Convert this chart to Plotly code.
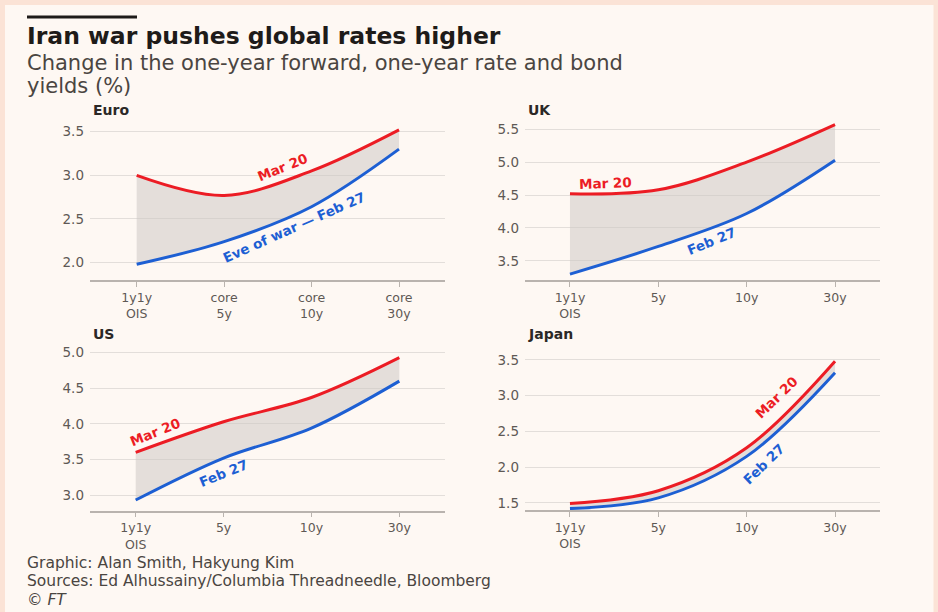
import plotly.graph_objects as go

# ---------------- data ----------------
categories_euro = ["1y1y<br>OIS", "core<br>5y", "core<br>10y", "core<br>30y"]
categories_other = ["1y1y<br>OIS", "5y", "10y", "30y"]

euro_mar20 = [3.00, 2.77, 3.05, 3.52]
euro_feb27 = [1.98, 2.24, 2.64, 3.30]

uk_mar20 = [4.52, 4.58, 5.00, 5.57]
uk_feb27 = [3.30, 3.72, 4.22, 5.03]

us_mar20 = [3.60, 4.03, 4.37, 4.93]
us_feb27 = [2.93, 3.52, 3.94, 4.60]

japan_mar20 = [1.49, 1.67, 2.27, 3.48]
japan_feb27 = [1.42, 1.57, 2.15, 3.32]

euro_ticks = [2.0, 2.5, 3.0, 3.5]
uk_ticks = [3.5, 4.0, 4.5, 5.0, 5.5]
us_ticks = [3.0, 3.5, 4.0, 4.5, 5.0]
japan_ticks = [1.5, 2.0, 2.5, 3.0, 3.5]

# ---------------- style ----------------
W, H = 938, 612
BG = "#FEF8F3"
PEACH = "#FBE3D6"
RED = "#EC1C24"
BLUE = "#1D5FD3"
FILL = "rgba(205,200,196,0.55)"
GRID = "#E3DEDA"
AXIS = "#B9B3AE"
FONT = "DejaVu Sans"
YTICKFONT = dict(family=FONT, size=13.5, color="#5E5955")
XTICKFONT = dict(family=FONT, size=12.5, color="#5E5955")


def px_x(p):
    return p / W


def px_y(p):
    return 1 - p / H


panels = [
    dict(name="Euro", mar=euro_mar20, feb=euro_feb27, cats=categories_euro, ticks=euro_ticks,
         xd=(90, 445), yd=(120, 280), xr=(-0.534, 3.526), yr=(1.80, 3.634), tx=91, ty=110),
    dict(name="UK", mar=uk_mar20, feb=uk_feb27, cats=categories_other, ticks=uk_ticks,
         xd=(525, 880), yd=(120, 280), xr=(-0.509, 3.509), yr=(3.21, 5.64), tx=526, ty=110),
    dict(name="US", mar=us_mar20, feb=us_feb27, cats=categories_other, ticks=us_ticks,
         xd=(90, 445), yd=(342, 510.7), xr=(-0.52, 3.52), yr=(2.78, 5.15), tx=91, ty=334),
    dict(name="Japan", mar=japan_mar20, feb=japan_feb27, cats=categories_other, ticks=japan_ticks,
         xd=(525, 880), yd=(342, 510), xr=(-0.509, 3.509), yr=(1.40, 3.75), tx=526, ty=334),
]

fig = go.Figure()
layout = {}
annotations = []
xs = [0, 1, 2, 3]

for i, p in enumerate(panels):
    n = "" if i == 0 else str(i + 1)
    xa, ya = "x" + n, "y" + n
    fig.add_trace(go.Scatter(x=xs, y=p["feb"], xaxis=xa, yaxis=ya, mode="lines",
                             line=dict(width=0, shape="spline", color=BLUE),
                             hoverinfo="skip", showlegend=False))
    fig.add_trace(go.Scatter(x=xs, y=p["mar"], xaxis=xa, yaxis=ya, mode="lines",
                             line=dict(width=0, shape="spline", color=RED),
                             fill="tonexty", fillcolor=FILL,
                             hoverinfo="skip", showlegend=False))
    fig.add_trace(go.Scatter(x=xs, y=p["feb"], xaxis=xa, yaxis=ya, mode="lines",
                             line=dict(width=3, shape="spline", color=BLUE),
                             name="Feb 27", showlegend=False))
    fig.add_trace(go.Scatter(x=xs, y=p["mar"], xaxis=xa, yaxis=ya, mode="lines",
                             line=dict(width=3, shape="spline", color=RED),
                             name="Mar 20", showlegend=False))

    layout["xaxis" + n] = dict(
        domain=[px_x(p["xd"][0]), px_x(p["xd"][1])], anchor=ya, range=list(p["xr"]),
        tickvals=xs, ticktext=p["cats"], showgrid=False, zeroline=False,
        showline=True, linecolor=AXIS, linewidth=1.5,
        ticks="outside", ticklen=5, tickcolor=AXIS, tickwidth=1,
        tickfont=XTICKFONT, fixedrange=True)
    layout["yaxis" + n] = dict(
        domain=[px_y(p["yd"][1]), px_y(p["yd"][0])], anchor=xa, range=list(p["yr"]),
        tickvals=p["ticks"], tickformat=".1f", showgrid=True, gridcolor=GRID, gridwidth=1.2,
        zeroline=False, showline=False, ticks="", ticklabelstandoff=5,
        tickfont=YTICKFONT, fixedrange=True)
    annotations.append(dict(text="<b>" + p["name"] + "</b>", xref="paper", yref="paper",
                            x=px_x(p["tx"]), y=px_y(p["ty"]), xanchor="left", yanchor="middle",
                            showarrow=False, font=dict(family=FONT, size=14, color="#2B2826")))

line_labels = [
    ("Mar 20", "x", "y", 1.67, 3.10, -22, RED),
    ("Eve of war — Feb 27", "x", "y", 1.80, 2.41, -24, BLUE),
    ("Mar 20", "x2", "y2", 0.40, 4.69, -2, RED),
    ("Feb 27", "x2", "y2", 1.60, 3.80, -22, BLUE),
    ("Mar 20", "x3", "y3", 0.22, 3.88, -22, RED),
    ("Feb 27", "x3", "y3", 1.00, 3.31, -22, BLUE),
    ("Mar 20", "x4", "y4", 2.34, 2.98, -44, RED),
    ("Feb 27", "x4", "y4", 2.19, 2.05, -44, BLUE),
]
for txt, xr, yr, x, y, ang, col in line_labels:
    annotations.append(dict(text="<b>" + txt + "</b>", xref=xr, yref=yr, x=x, y=y,
                            textangle=ang, showarrow=False,
                            font=dict(family=FONT, size=13.5, color=col)))

text_lines = [
    ("<b>Iran war pushes global rates higher</b>", 36, 23.5, "#1E1B19"),
    ("Change in the one-year forward, one-year rate and bond", 63, 21, "#4A4541"),
    ("yields (%)", 86, 21, "#4A4541"),
    ("Graphic: Alan Smith, Hakyung Kim", 563, 15.5, "#4A4541"),
    ("Sources: Ed Alhussainy/Columbia Threadneedle, Bloomberg", 581, 15.5, "#4A4541"),
    ("<i>© FT</i>", 600, 15.5, "#4A4541"),
]
for txt, y, size, col in text_lines:
    annotations.append(dict(text=txt, xref="paper", yref="paper", x=px_x(25), y=px_y(y),
                            xanchor="left", yanchor="middle", showarrow=False,
                            font=dict(family=FONT, size=size, color=col)))

shapes = [
    dict(type="line", xref="paper", yref="paper", x0=px_x(27), x1=px_x(137),
         y0=px_y(17), y1=px_y(17), line=dict(color="#1E1B19", width=3)),
    dict(type="rect", xref="paper", yref="paper", x0=px_x(2.5), x1=px_x(936),
         y0=px_y(640), y1=px_y(2.5), line=dict(color=PEACH, width=5)),
]

fig.update_layout(
    width=W, height=H, autosize=False,
    margin=dict(l=0, r=0, t=0, b=0),
    paper_bgcolor=BG, plot_bgcolor=BG,
    annotations=annotations, shapes=shapes, showlegend=False,
    font=dict(family=FONT),
    **layout,
)

fig.write_html(
    "out.html",
    config={"displayModeBar": False},
    post_script="document.body.style.margin='0';document.body.style.overflow='hidden';"
                "document.body.style.background='" + BG + "';",
)
